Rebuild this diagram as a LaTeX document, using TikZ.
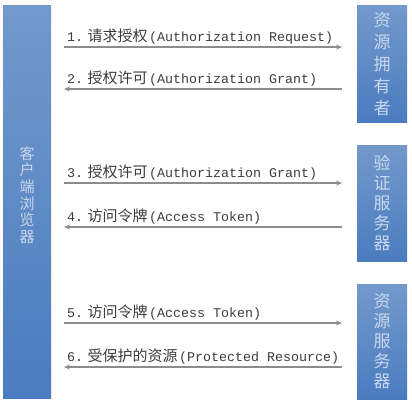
\documentclass[tikz,border=0pt]{standalone}
\usepackage{fontspec}
\setmonofont{Liberation Mono}
\newfontfamily\cjk{Noto Sans CJK SC}
\usetikzlibrary{arrows.meta}
\definecolor{boxtop}{HTML}{7399CC}
\definecolor{boxbot}{HTML}{4A7CBF}
\definecolor{boxtxt}{HTML}{C9D8EE}
\definecolor{linecol}{HTML}{8C8C8C}
\definecolor{txtcol}{HTML}{3C3C3C}
\newcommand{\msglbl}[3]{{\ttfamily\fontsize{13.33}{14}\selectfont #1.}\hspace{4.5pt}{\cjk\fontsize{15}{16}\selectfont #2}\hspace{1.5pt}{\ttfamily\fontsize{13.33}{14}\selectfont (#3)}}
\tikzset{
  party/.style={rectangle, draw=none, top color=boxtop, bottom color=boxbot, inner sep=0pt,
    text=boxtxt, align=center},
  msg/.style={draw=linecol, line width=1.3pt, -{Stealth[length=6pt,width=5pt]}},
  msgtext/.style={anchor=base west, inner sep=0pt, text=txtcol}
}
\begin{document}
\begin{tikzpicture}[x=1pt,y=-1pt]
\useasboundingbox (0,0) rectangle (412,404);
\node[party, minimum width=48pt, minimum height=392pt] (client) at (27,202) {};
\node[text=boxtxt, inner sep=0pt] (clienttxt) at (27,195)
  {\parbox{20pt}{\centering\cjk\fontsize{15}{16.6}\selectfont 客\\户\\端\\浏\\览\\器}};
\node[party, minimum width=50pt, minimum height=116pt] (owner) at (382,64)
  {\parbox{20pt}{\centering\cjk\fontsize{17}{22}\selectfont 资\\源\\拥\\有\\者}};
\node[party, minimum width=50pt, minimum height=116pt] (auth) at (382,203)
  {\parbox{20pt}{\centering\cjk\fontsize{17}{20}\selectfont 验\\证\\服\\务\\器}};
\node[party, minimum width=50pt, minimum height=115pt] (res) at (382,341.5)
  {\parbox{20pt}{\centering\cjk\fontsize{17}{20}\selectfont 资\\源\\服\\务\\器}};

\coordinate (l1) at (64,47);  \coordinate (r1) at (342,47);
\coordinate (l2) at (64,89);  \coordinate (r2) at (342,89);
\coordinate (l3) at (64,183); \coordinate (r3) at (342,183);
\coordinate (l4) at (64,227); \coordinate (r4) at (342,227);
\coordinate (l5) at (64,323); \coordinate (r5) at (342,323);
\coordinate (l6) at (64,367); \coordinate (r6) at (342,367);

\draw[msg] (l1) -- (r1);
\draw[msg] (r2) -- (l2);
\draw[msg] (l3) -- (r3);
\draw[msg] (r4) -- (l4);
\draw[msg] (l5) -- (r5);
\draw[msg] (r6) -- (l6);

\node[msgtext] (t1) at (67,41.5) {\msglbl{1}{请求授权}{Authorization Request}};
\node[msgtext] (t2) at (67,83.5) {\msglbl{2}{授权许可}{Authorization Grant}};
\node[msgtext] (t3) at (67,177.5) {\msglbl{3}{授权许可}{Authorization Grant}};
\node[msgtext] (t4) at (67,221.5) {\msglbl{4}{访问令牌}{Access Token}};
\node[msgtext] (t5) at (67,317.5) {\msglbl{5}{访问令牌}{Access Token}};
\node[msgtext] (t6) at (67,361.5) {\msglbl{6}{受保护的资源}{Protected Resource}};
\end{tikzpicture}
\end{document}
